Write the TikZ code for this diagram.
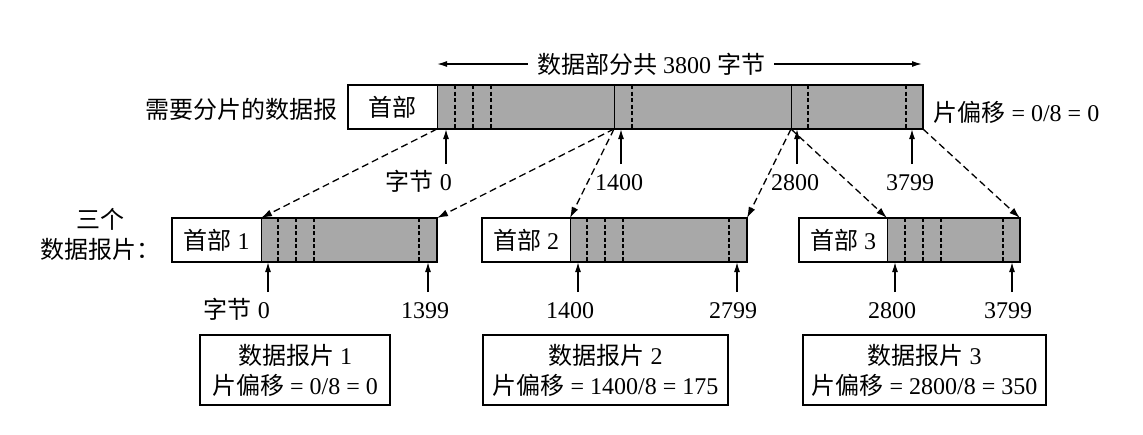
\documentclass[tikz,border=0pt]{standalone}
\usepackage{fontspec}
\setmainfont{Liberation Serif}
\newfontfamily\cjk{Noto Sans CJK SC}
\usetikzlibrary{positioning, arrows.meta}
\definecolor{dotgray}{gray}{0.66}
\newcommand{\zh}[1]{{\cjk #1}}
\tikzset{
  hdr/.style={rectangle, fill=white, minimum height=44pt, inner sep=0pt, outer sep=0pt},
  seg/.style={hdr, fill=dotgray},
  frame/.style={line width=1.8pt},
  edge/.style={line width=1pt},
  sep/.style={line width=1.5pt, dash pattern=on 4pt off 2.5pt},
  ptr/.style={-{Latex[length=10pt, width=6pt]}, line width=1.4pt},
  split/.style={-{Latex[length=11pt, width=7pt]}, line width=1.3pt, dash pattern=on 7pt off 4pt},
  lbl/.style={inner sep=0pt, text height=16pt, text depth=0pt},
  info/.style={rectangle, draw, line width=1.5pt, minimum height=70pt, align=center, inner sep=0pt},
}

\begin{document}
\begin{tikzpicture}[x=1pt, y=-1pt, font=\fontsize{24}{30}\selectfont]
  \useasboundingbox (0,0) rectangle (1143,434);
  % datagram before splitting
  \node[hdr, minimum width=89pt] (h0) at (392.5,107) {\zh{首部}};
  \node[seg, minimum width=177pt, right=0pt of h0] (s1) {};
  \node[seg, minimum width=177pt, right=0pt of s1] (s2) {};
  \node[seg, minimum width=132pt, right=0pt of s2] (s3) {};
  \foreach \x in {455,473,491,632,808,906}
    \draw[sep] (\x,85) -- (\x,129);
  \draw[edge] (h0.north east) -- (h0.south east);
  \draw[edge] (s1.north east) -- (s1.south east);
  \draw[edge] (s2.north east) -- (s2.south east);
  \draw[frame] (h0.north west) rectangle (s3.south east);
  \node[left=7pt of h0, yshift=-2pt] (name) {\zh{需要分片的数据报}};
  \node[right=7pt of s3, yshift=-5pt] (off0) {\zh{片偏移} = 0/8 = 0};

  % data length
  \node[inner xsep=9pt] (span) at (651,64) {\zh{数据部分共} 3800 \zh{字节}};
  \coordinate (spanL) at (437,64);
  \coordinate (spanR) at (922,64);
  \draw[ptr] (span) -- (spanL);
  \draw[ptr] (span) -- (spanR);

  % byte positions, whole datagram
  \coordinate (b0) at (446,164);
  \draw[ptr] (b0) -- (b0 |- s1.south);
  \node[lbl, below left=10pt and -6pt of b0] {\zh{字节} 0};
  \foreach \n/\x/\t in {b1/621/1400, b2/797/2800, b3/912/3799} {
    \coordinate (\n) at (\x,164);
    \draw[ptr] (\n) -- (\n |- s1.south);
    \node[lbl, below=10pt of \n, xshift=-2pt] {\t};
  }

  % fragments
  \node[align=center] (frags) at (100,234) {\zh{三个}\\\zh{数据报片：}};
  \node[hdr, minimum width=89pt] (f1h) at (216.5,240) {\zh{首部} 1};
  \node[seg, minimum width=176pt, right=0pt of f1h] (f1d) {};
  \node[hdr, minimum width=88pt] (f2h) at (526,240) {\zh{首部} 2};
  \node[seg, minimum width=177pt, right=0pt of f2h] (f2d) {};
  \node[hdr, minimum width=88pt] (f3h) at (843,240) {\zh{首部} 3};
  \node[seg, minimum width=133pt, right=0pt of f3h] (f3d) {};
  \foreach \x in {278,296,314,419,587,605,623,729,905,923,941,1003}
    \draw[sep] (\x,218) -- (\x,262);
  \foreach \i in {1,2,3} {
    \draw[edge] (f\i h.north east) -- (f\i h.south east);
    \draw[frame] (f\i h.north west) rectangle (f\i d.south east);
  }

  % where each piece goes
  \draw[split] (s1.south west) -- (f1d.north west);
  \draw[split] (s1.south east) -- (f1d.north east);
  \draw[split] (s2.south west) -- (f2d.north west);
  \draw[split] (s2.south east) -- (f2d.north east);
  \draw[split] (s3.south west) -- (f3d.north west);
  \draw[split] (s3.south east) -- (f3d.north east);

  % byte positions, fragments
  \coordinate (a0) at (268,292);
  \draw[ptr] (a0) -- (a0 |- f1d.south);
  \node[lbl, below left=10pt and -2pt of a0] {\zh{字节} 0};
  \foreach \n/\x/\t/\dx in {a1/428/1399/-3, a2/578/1400/-8, a3/737/2799/-4, a4/895/2800/-3, a5/1012/3799/-4} {
    \coordinate (\n) at (\x,292);
    \draw[ptr] (\n) -- (\n |- f1d.south);
    \node[lbl, below=10pt of \n, xshift=\dx pt] {\t};
  }

  % offsets
  \node[info, minimum width=190pt] (r1) at (295,370) {\zh{数据报片} 1\\\zh{片偏移} = 0/8 = 0};
  \node[info, minimum width=245pt] (r2) at (605.5,370) {\zh{数据报片} 2\\\zh{片偏移} = 1400/8 = 175};
  \node[info, minimum width=243pt] (r3) at (924.5,370) {\zh{数据报片} 3\\\zh{片偏移} = 2800/8 = 350};
\end{tikzpicture}
\end{document}
